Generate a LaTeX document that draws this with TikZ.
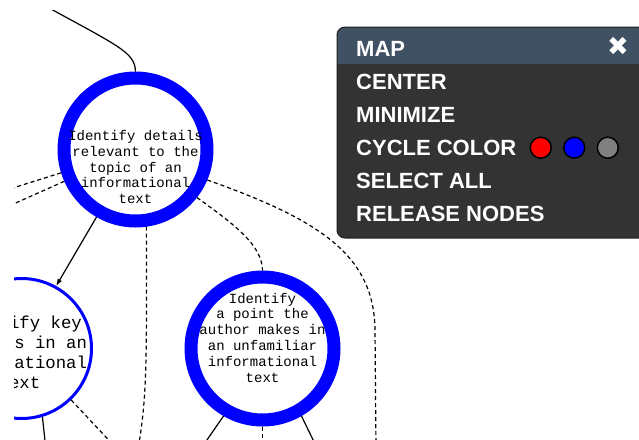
\documentclass[tikz,border=0pt]{standalone}
\usepackage{fontspec}
\usepackage{xcolor}
\usepackage{tikz}
\usetikzlibrary{arrows.meta,positioning}

\newfontfamily\nodefont{Liberation Mono}
\newfontfamily\menufont{Liberation Sans}
\newfontfamily\iconfont{DejaVu Sans}

\definecolor{mapblue}{HTML}{0000FF}
\definecolor{panelbody}{HTML}{333333}
\definecolor{panelhead}{HTML}{3F5163}
\definecolor{panelline}{HTML}{1C1C1C}

\begin{document}
\begin{tikzpicture}[
    x=1pt, y=-1pt,
    node distance=17pt and 11pt,
    ring/.style={circle, draw=mapblue, line width=13pt, minimum size=143pt, inner sep=0pt},
    focus/.style={circle, draw=mapblue, line width=3pt, minimum size=140pt, inner sep=0pt},
    caption/.style={align=center, inner sep=0pt, font=\nodefont\fontsize{14}{15.8}\selectfont},
    bigcaption/.style={caption, font=\nodefont\fontsize{17.3}{20}\selectfont},
    link/.style={line width=1.2pt},
    dashlink/.style={link, dash pattern=on 4pt off 3pt},
    arrow/.style={link, -{Latex[length=7pt, width=5pt]}},
    item/.style={inner sep=0pt, text=white, text height=15.5pt, text depth=0pt, font=\menufont\bfseries\fontsize{22}{24}\selectfont},
    swatch/.style={circle, draw=black, line width=1.5pt, minimum size=21pt, inner sep=0pt}
]
\useasboundingbox[fill=white] (0,0) rectangle (639,439);

\begin{scope}
\clip (14,10) rectangle (639,439);
% skill nodes
\node[ring] (topic) at (135.5,149.5) {};
\node[focus] (keydetails) at (21.5,348.5) {};
\node[ring] (authorpoint) at (262.5,348.5) {};
\node[caption] (topic-text) at (135.5,167) {Identify details\\relevant to the\\topic of an\\informational\\text};
\node[bigcaption] (keydetails-text) at (19.5,352.5) {Identify key\\details in an\\informational\\text};
\node[caption] (authorpoint-text) at (262.5,337.5) {Identify\\a point the\\author makes in\\an unfamiliar\\informational\\text};
% loose ends outside the view
\coordinate (parent) at (40,3);
\coordinate (offA) at (0,192);
\coordinate (offB) at (0,210);
\coordinate (offC) at (138,450);
\coordinate (offD) at (376,450);
\coordinate (offE) at (46,450);
\coordinate (offF) at (118,450);
\coordinate (offG) at (200,450);
\coordinate (offH) at (262.5,450);
\coordinate (offI) at (318,450);
% connectors
\draw[link] (parent) .. controls (118,46) and (135,52) .. (topic.north);
\draw[arrow] (topic.240) -- (keydetails.61);
\draw[dashlink] (topic) -- (offA);
\draw[dashlink] (topic) -- (offB);
\draw[dashlink] (topic.-82) .. controls (147,380) and (146,400) .. (offC);
\draw[dashlink] (topic.-38) .. controls (235,225) and (262,245) .. (authorpoint.north);
\draw[dashlink] (topic.-23) .. controls (320,220) and (374,255) .. (375,330) -- (offD);
\draw[link] (keydetails.-73) -- (offE);
\draw[dashlink] (keydetails.-46) -- (offF);
\draw[link] (authorpoint.240) -- (offG);
\draw[dashlink] (authorpoint.south) -- (offH);
\draw[link] (authorpoint.300) -- (offI);
\end{scope}

% map panel
\begin{scope}
\clip[rounded corners=8pt] (337,27) rectangle (650,238);
\fill[panelbody] (337,27) rectangle (650,238);
\fill[panelhead] (337,27) rectangle (650,64);
\end{scope}
\draw[panelline, line width=1pt, rounded corners=8pt] (337,27) rectangle (650,238);
\node[item, anchor=west] (map) at (356,49) {MAP};
\node[text=white, inner sep=0pt, font=\iconfont\fontsize{26}{26}\selectfont] (close) at (618,46) {✖};
\node[item, below=of map.south west, anchor=north west] (center) {CENTER};
\node[item, below=of center.south west, anchor=north west] (minimize) {MINIMIZE};
\node[item, below=of minimize.south west, anchor=north west] (cycle) {CYCLE COLOR};
\node[item, below=of cycle.south west, anchor=north west] (selectall) {SELECT ALL};
\node[item, below=of selectall.south west, anchor=north west] (release) {RELEASE NODES};
\node[swatch, fill=red, right=13pt of cycle] (red) {};
\node[swatch, fill=blue, right=of red] (blue) {};
\node[swatch, fill=gray, right=of blue] (grey) {};
\end{tikzpicture}
\end{document}
